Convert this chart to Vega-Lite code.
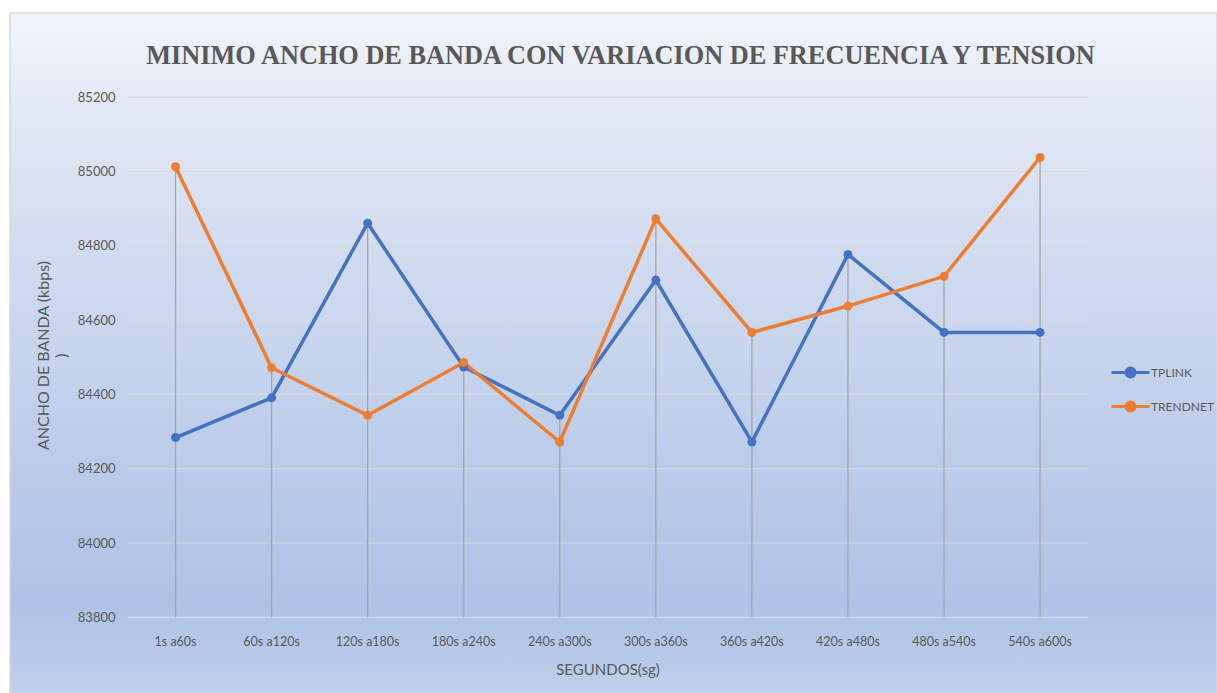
{
  "$schema": "https://vega.github.io/schema/vega-lite/v6.json",
  "width": 1207,
  "height": 680,
  "autosize": {"type": "none"},
  "padding": {"left": 10, "top": 13, "right": 0, "bottom": 0},
  "background": "#ffffff",
  "config": {
    "font": "Lato",
    "view": {
      "fill": {
        "gradient": "linear", "x1": 0, "y1": 0, "x2": 0, "y2": 1,
        "stops": [
          {"offset": 0, "color": "#f2f5fb"},
          {"offset": 0.12, "color": "#e4eaf6"},
          {"offset": 0.35, "color": "#d2dcf0"},
          {"offset": 0.55, "color": "#c3d2ec"},
          {"offset": 0.75, "color": "#b5c8e8"},
          {"offset": 0.87, "color": "#adc2e6"},
          {"offset": 1, "color": "#bfd0ec"}
        ]
      },
      "stroke": "#d9d9d9",
      "strokeWidth": 1.5
    }
  },
  "title": {
    "text": "MINIMO ANCHO DE BANDA CON VARIACION DE FRECUENCIA Y TENSION",
    "orient": "top",
    "anchor": "middle",
    "frame": "group",
    "offset": -69,
    "baseline": "middle",
    "font": "Liberation Serif",
    "fontSize": 26.3,
    "fontWeight": "bold",
    "color": "#595959",
    "dx": 7
  },
  "datasets": {
    "series": [
      {"periodo": "1s a60s", "serie": "TPLINK", "valor": 84284},
      {"periodo": "60s a120s", "serie": "TPLINK", "valor": 84391},
      {"periodo": "120s a180s", "serie": "TPLINK", "valor": 84861},
      {"periodo": "180s a240s", "serie": "TPLINK", "valor": 84474},
      {"periodo": "240s a300s", "serie": "TPLINK", "valor": 84344},
      {"periodo": "300s a360s", "serie": "TPLINK", "valor": 84708},
      {"periodo": "360s a420s", "serie": "TPLINK", "valor": 84272},
      {"periodo": "420s a480s", "serie": "TPLINK", "valor": 84777},
      {"periodo": "480s a540s", "serie": "TPLINK", "valor": 84567},
      {"periodo": "540s a600s", "serie": "TPLINK", "valor": 84567},
      {"periodo": "1s a60s", "serie": "TRENDNET", "valor": 85013},
      {"periodo": "60s a120s", "serie": "TRENDNET", "valor": 84472},
      {"periodo": "120s a180s", "serie": "TRENDNET", "valor": 84344},
      {"periodo": "180s a240s", "serie": "TRENDNET", "valor": 84486},
      {"periodo": "240s a300s", "serie": "TRENDNET", "valor": 84272},
      {"periodo": "300s a360s", "serie": "TRENDNET", "valor": 84873},
      {"periodo": "360s a420s", "serie": "TRENDNET", "valor": 84567},
      {"periodo": "420s a480s", "serie": "TRENDNET", "valor": 84638},
      {"periodo": "480s a540s", "serie": "TRENDNET", "valor": 84718},
      {"periodo": "540s a600s", "serie": "TRENDNET", "valor": 85038}
    ],
    "grid": [
      {"g": 83800}, {"g": 84000}, {"g": 84200}, {"g": 84400},
      {"g": 84600}, {"g": 84800}, {"g": 85000}, {"g": 85200}
    ]
  },
  "data": {"name": "series"},
  "encoding": {
    "x": {
      "field": "periodo",
      "type": "nominal",
      "scale": {
        "type": "band",
        "domain": ["1s a60s", "60s a120s", "120s a180s", "180s a240s", "240s a300s", "300s a360s", "360s a420s", "420s a480s", "480s a540s", "540s a600s"],
        "paddingInner": 0,
        "paddingOuter": 0,
        "range": [117.5, 1078.1]
      },
      "axis": {
        "orient": "bottom",
        "offset": -76,
        "domain": false,
        "ticks": false,
        "grid": false,
        "labelAngle": 0,
        "labelPadding": 18,
        "labelFontSize": 12.5,
        "labelColor": "#595959",
        "labelFont": "Lato",
        "title": "SEGUNDOS(sg)",
        "titleX": 597.5,
        "titleY": 52,
        "titleBaseline": "middle",
        "titleAlign": "center",
        "titleFontSize": 15,
        "titleFontWeight": "normal",
        "titleColor": "#595959",
        "titleFont": "Lato"
      }
    },
    "y": {
      "field": "valor",
      "type": "quantitative",
      "scale": {"domain": [83596.2, 85427], "nice": false, "zero": false},
      "axis": {
        "orient": "left",
        "offset": -113,
        "domain": false,
        "ticks": false,
        "grid": false,
        "values": [83800, 84000, 84200, 84400, 84600, 84800, 85000, 85200],
        "format": "d",
        "labelPadding": 8,
        "labelFontSize": 13,
        "labelColor": "#595959",
        "labelFont": "Lato",
        "title": ["ANCHO DE BANDA (kbps)", ")"],
        "titleX": -80,
        "titleY": 342,
        "titleAngle": -90,
        "titleAlign": "center",
        "titleBaseline": "middle",
        "titleLineHeight": 18,
        "titleFontSize": 16,
        "titleFontWeight": "normal",
        "titleColor": "#595959",
        "titleFont": "Lato"
      }
    }
  },
  "layer": [
    {
      "data": {"name": "grid"},
      "mark": {"type": "rule", "color": "#d9d9d9", "strokeWidth": 1.2},
      "encoding": {
        "x": {"datum": "1s a60s", "type": "nominal", "bandPosition": 0},
        "x2": {"datum": "540s a600s", "bandPosition": 1},
        "y": {"field": "g", "type": "quantitative"}
      }
    },
    {
      "transform": [
        {"aggregate": [{"op": "max", "field": "valor", "as": "maxv"}], "groupby": ["periodo"]}
      ],
      "mark": {"type": "rule", "color": "#a6a6a6", "strokeWidth": 1.3},
      "encoding": {
        "y": {"field": "maxv", "type": "quantitative"},
        "y2": {"datum": 83800}
      }
    },
    {
      "mark": {
        "type": "line",
        "strokeWidth": 3.5,
        "point": {"filled": true, "size": 80}
      },
      "encoding": {
        "color": {
          "field": "serie",
          "type": "nominal",
          "scale": {"domain": ["TPLINK", "TRENDNET"], "range": ["#4472c4", "#ed7d31"]},
          "legend": {
            "orient": "none",
            "legendX": 1103,
            "legendY": 342,
            "direction": "vertical",
            "title": null,
            "padding": 0,
            "rowPadding": 6,
            "symbolType": "M-1.19,0H1.19M-0.28,0A0.28,0.28,0,1,1,0.28,0A0.28,0.28,0,1,1,-0.28,0Z",
            "symbolSize": 1024,
            "symbolStrokeWidth": 3,
            "labelOffset": 3,
            "labelFontSize": 12,
            "labelColor": "#595959",
            "labelFont": "Lato",
            "encode": {
              "symbols": {
                "update": {
                  "fill": {"scale": "color", "field": "value"},
                  "stroke": {"scale": "color", "field": "value"}
                }
              }
            }
          }
        }
      }
    }
  ]
}
